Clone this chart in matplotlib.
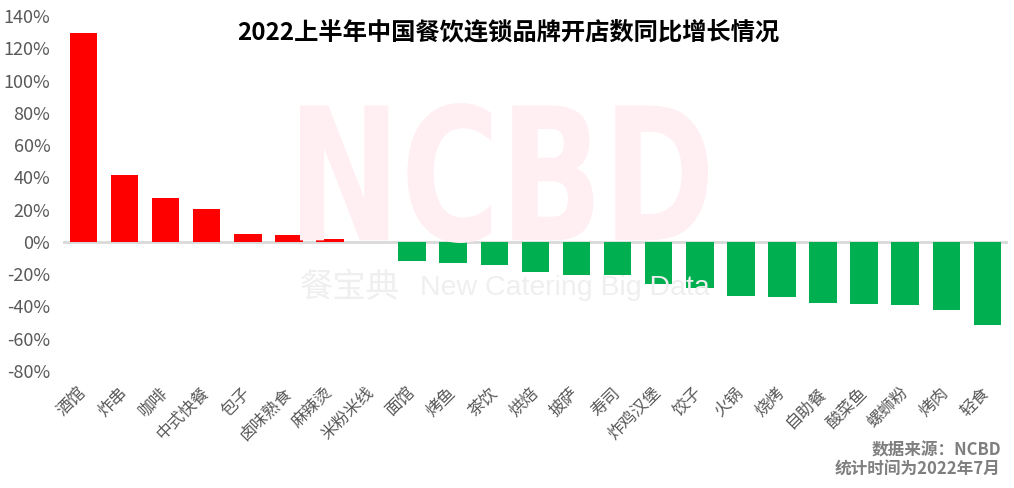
import numpy as np
import matplotlib
matplotlib.use('Agg')
from matplotlib import pyplot as plt
from matplotlib.textpath import TextPath
from matplotlib.patches import PathPatch
from matplotlib.font_manager import FontProperties
from matplotlib.transforms import Affine2D

plt.rcParams['font.family'] = ['Noto Sans CJK SC', 'DejaVu Sans']

# categories and year-on-year growth of new stores (%)
categories = ['酒馆', '炸串', '咖啡', '中式快餐', '包子', '卤味熟食', '麻辣烫', '米粉米线',
              '面馆', '烤鱼', '茶饮', '烘焙', '披萨', '寿司', '炸鸡汉堡', '饺子',
              '火锅', '烧烤', '自助餐', '酸菜鱼', '螺蛳粉', '烤肉', '轻食']
growth = [129.6, 41.3, 27.0, 20.2, 4.8, 4.1, 1.7, 0.0,
          -11.9, -12.9, -14.1, -18.9, -20.8, -20.8, -26.4, -28.3,
          -33.3, -34.0, -37.7, -38.4, -39.0, -42.0, -51.8]
yticks = [-80, -60, -40, -20, 0, 20, 40, 60, 80, 100, 120, 140]

title = '2022上半年中国餐饮连锁品牌开店数同比增长情况'
grey = '#595959'

fig = plt.figure(figsize=(10.14, 4.88), dpi=100)
ax = fig.add_axes([0.062, 0.240, 0.932, 0.727])

# watermark "NCBD", squeezed into its box (figure pixels)
tp = TextPath((0, 0), 'NCBD', size=1, prop=FontProperties(family='DejaVu Sans', weight='bold'))
ext = tp.get_extents()
box_x0, box_x1, box_y0, box_y1 = 300, 708, 245, 385
tr = (Affine2D().translate(-ext.x0, -ext.y0)
      .scale((box_x1 - box_x0) / ext.width, (box_y1 - box_y0) / ext.height)
      .translate(box_x0, box_y0))
wm = PathPatch(tr.transform_path(tp), facecolor='#FFEEF2', edgecolor='none',
               transform=None, zorder=0)
fig.patches.append(wm)

fig.text(0.296, 0.41, '餐宝典', fontsize=24, color='#EFEFEF', ha='left', va='center', zorder=0)
fig.text(0.414, 0.41, 'New Catering Big Data', fontsize=20.5, color='#EFEFEF',
         family='Liberation Sans', ha='left', va='center', zorder=0)
ax.set_facecolor('none')

x = np.arange(len(categories))
colors = ['#FF0000' if v >= 0 else '#00B050' for v in growth]
ax.bar(x, growth, width=0.67, color=colors, zorder=3)
ax.axhline(0, color='#D9D9D9', lw=2, zorder=2)

ax.set_xlim(-0.5, len(categories) - 0.5)
ax.set_ylim(-80, 140)
ax.set_yticks(yticks)
ax.set_yticklabels([f'{t}%' for t in yticks], fontsize=13, color=grey)
ax.set_xticks(x)
ax.set_xticklabels(categories, rotation=45, ha='right', va='center', rotation_mode='anchor',
                   fontsize=12, color=grey)
ax.tick_params(axis='both', length=0)
ax.tick_params(axis='y', pad=9)
ax.tick_params(axis='x', pad=14)
for s in ax.spines.values():
    s.set_visible(False)

fig.text(0.501, 0.932, title, fontsize=17.5, fontweight='bold', color='black',
         ha='center', va='center')
fig.text(0.987, 0.076, '数据来源：NCBD', fontsize=12, fontweight='bold', color='#7F7F7F',
         ha='right', va='center')
fig.text(0.987, 0.037, '统计时间为2022年7月', fontsize=12, fontweight='bold', color='#7F7F7F',
         ha='right', va='center')

fig.savefig('out.png', dpi=100)
